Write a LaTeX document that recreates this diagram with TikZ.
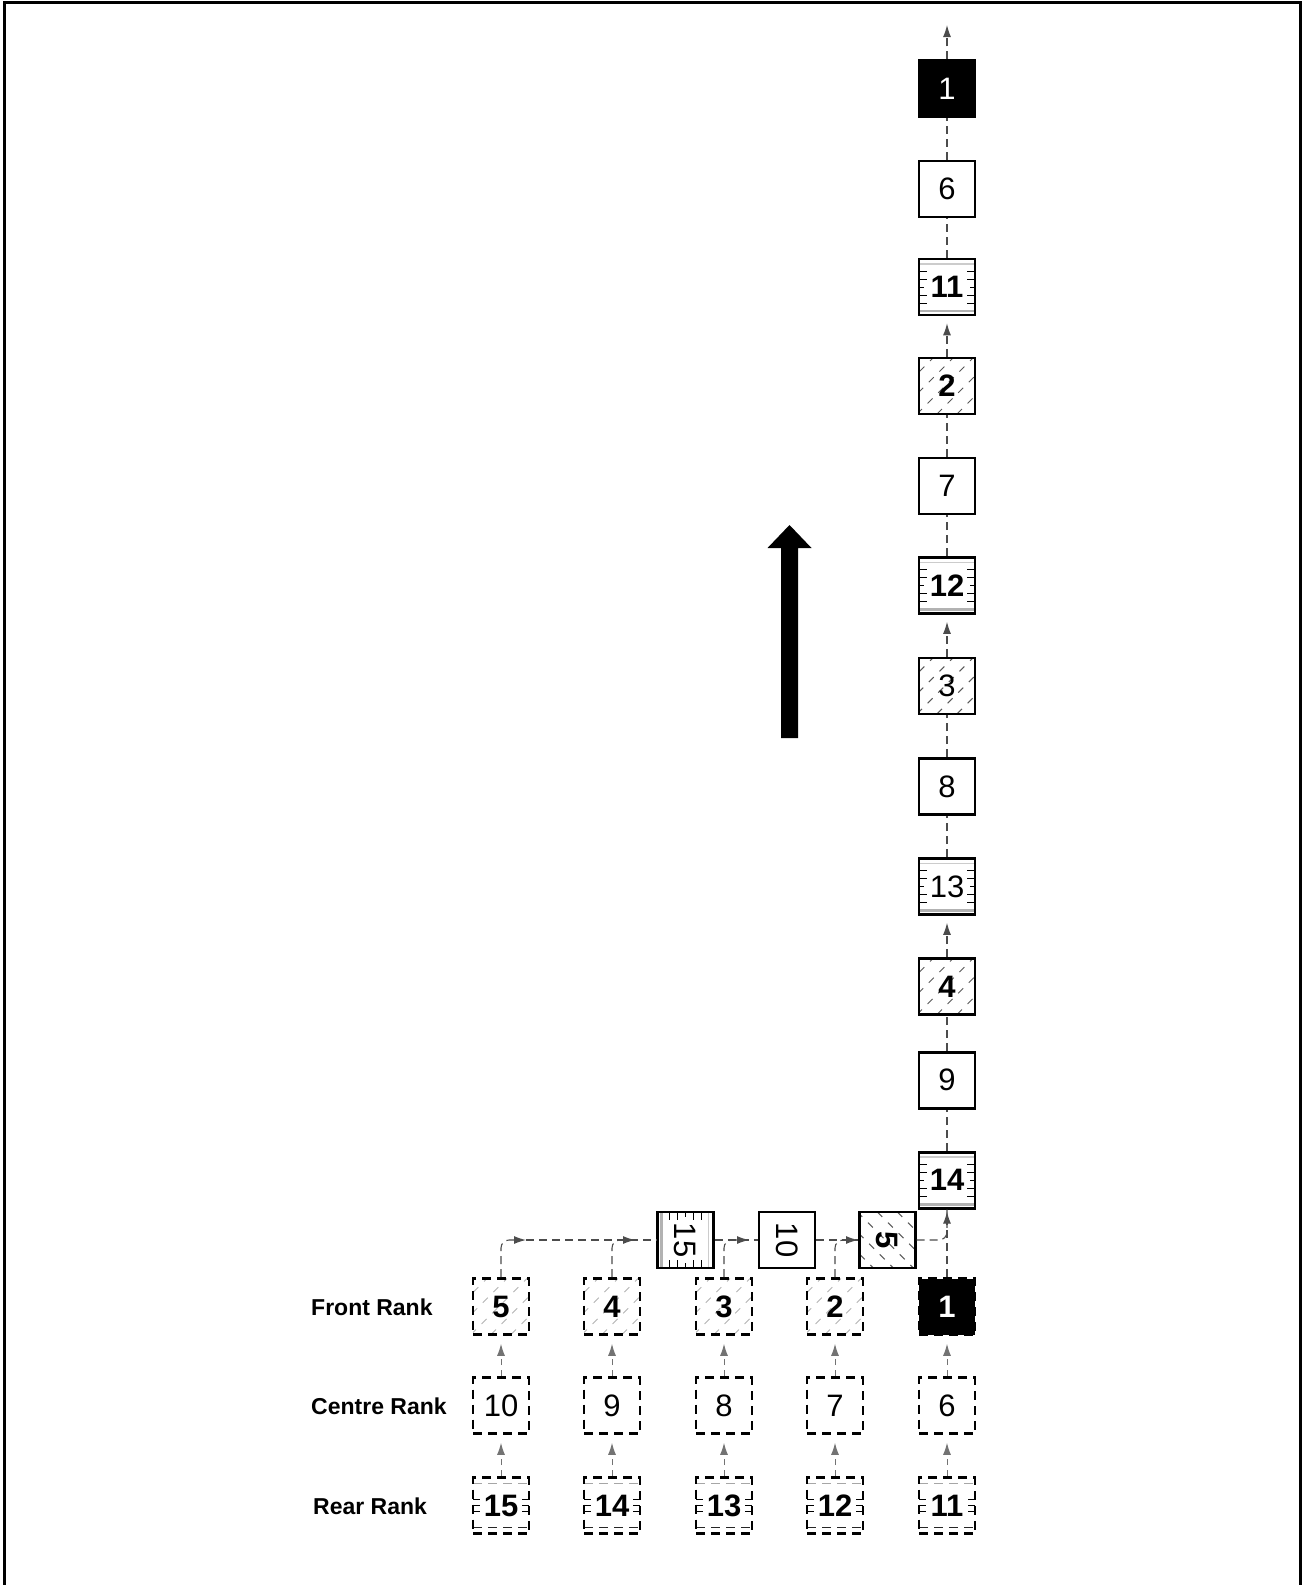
\documentclass[tikz,border=0pt]{standalone}
\usepackage{fontspec}
\setmainfont{Liberation Sans}
\usetikzlibrary{arrows.meta}
% patterns drawn under a 56x56 box centred on #1
\newcommand\patHatchR[2]{\begin{scope}[shift={(#1)}]\clip (-28,-28) rectangle (28,28);
  \foreach \d in {-90,-70,...,30}{\draw[#2,line width=1pt,dash pattern=on 7pt off 8pt] (\d,28) -- (\d+56,-28);}\end{scope}}
\newcommand\patHatchL[2]{\begin{scope}[shift={(#1)}]\clip (-28,-28) rectangle (28,28);
  \foreach \d in {-90,-70,...,30}{\draw[#2,line width=1pt,dash pattern=on 7pt off 8pt] (\d,-28) -- (\d+56,28);}\end{scope}}
\newcommand\patRuledH[1]{\begin{scope}[shift={(#1)}]
  \draw[gray!40,line width=1.8pt] (-27,-23) -- (27,-23);
  \draw[gray!60,line width=2.5pt] (-27,24) -- (27,24);
  \foreach \t in {-16,-8,8,16}{\draw[line width=1pt] (-28,\t) -- (-20,\t) (28,\t) -- (20,\t);}
  \draw[line width=1pt] (-28,0) -- (-23,0) (28,0) -- (23,0);\end{scope}}
\newcommand\patRuledV[1]{\begin{scope}[shift={(#1)}]
  \draw[gray!60,line width=2.5pt] (-24,-27) -- (-24,27);
  \draw[gray!40,line width=1.8pt] (23,-27) -- (23,27);
  \foreach \t in {-16,-8,8,16}{\draw[line width=1pt] (\t,-28) -- (\t,-20) (\t,28) -- (\t,20);}
  \draw[line width=1pt] (0,-28) -- (0,-23) (0,28) -- (0,23);\end{scope}}
\newcommand\patRuledD[1]{\begin{scope}[shift={(#1)}]
  \draw[gray!70,line width=1.8pt,dash pattern=on 9pt off 6pt] (-28,-22) -- (28,-22);
  \draw[black!85,line width=1.8pt,dash pattern=on 9pt off 6pt] (-28,22) -- (28,22);
  \foreach \t in {-6,0,6}{\draw[line width=1pt] (-28,\t) -- (-21,\t) (28,\t) -- (21,\t);}\end{scope}}
\begin{document}
\begin{tikzpicture}[x=1pt,y=-1pt,
  sq/.style={minimum width=56pt,minimum height=56pt,inner sep=0pt,font=\fontsize{31}{33}\selectfont},
  bnum/.style={font=\fontsize{31}{33}\selectfont\bfseries},
  solidbox/.style={sq,draw,line width=2.6pt},
  dashbox/.style={sq,draw,line width=2.6pt,dash pattern=on 9pt off 6pt},
  lead/.style={fill=black,text=white},
  conn/.style={draw=black!70,line width=1.1pt,dash pattern=on 8pt off 5pt},
  conn2/.style={draw=black!55,line width=1pt,dash pattern=on 6pt off 5pt},
  arr/.style={-{Latex[length=12pt,width=8pt]}},
  lab/.style={font=\fontsize{23}{26}\selectfont\bfseries,anchor=base west,inner sep=0pt}
]
\useasboundingbox (0,0) rectangle (1302,1585);
% frame (open at the bottom)
\draw[line width=3.2pt,line join=miter] (4.3,1585) -- (4.3,2.5) -- (1300.5,2.5) -- (1300.5,1585);

% labels
\node[lab] (lfront) at (311,1315.4) {Front Rank};
\node[lab] (lcentre) at (311,1414) {Centre Rank};
\node[lab] (lrear) at (313,1514) {Rear Rank};

% formation: front rank
\patHatchR{501,1306.5}{gray!60}
\node[dashbox,bnum] (f5) at (501,1306.5) {5};
\patHatchR{612,1306.5}{gray!60}
\node[dashbox,bnum] (f4) at (612,1306.5) {4};
\patHatchR{724,1306.5}{gray!60}
\node[dashbox,bnum] (f3) at (724,1306.5) {3};
\patHatchR{835,1306.5}{gray!60}
\node[dashbox,bnum] (f2) at (835,1306.5) {2};
\node[dashbox,lead,bnum] (f1) at (947,1306.5) {1};
% centre rank
\node[dashbox] (ce10) at (501,1405.5) {10};
\node[dashbox] (ce9) at (612,1405.5) {9};
\node[dashbox] (ce8) at (724,1405.5) {8};
\node[dashbox] (ce7) at (835,1405.5) {7};
\node[dashbox] (ce6) at (947,1405.5) {6};
% rear rank
\patRuledD{501,1505.5}
\node[dashbox,bnum] (r15) at (501,1505.5) {15};
\patRuledD{612,1505.5}
\node[dashbox,bnum] (r14) at (612,1505.5) {14};
\patRuledD{724,1505.5}
\node[dashbox,bnum] (r13) at (724,1505.5) {13};
\patRuledD{835,1505.5}
\node[dashbox,bnum] (r12) at (835,1505.5) {12};
\patRuledD{947,1505.5}
\node[dashbox,bnum] (r11) at (947,1505.5) {11};

% wheeling row
\patRuledV{685.5,1240}
\node[solidbox] (m15) at (685.5,1240) {\rotatebox{-90}{15}};
\node[solidbox] (m10) at (787,1240) {\rotatebox{-90}{10}};
\patHatchL{887.3,1240}{gray!70!black}
\node[solidbox,bnum] (m5) at (887.3,1240) {\rotatebox{-90}{5}};

% column of march
\node[solidbox,lead] (col1) at (947,88.7) {1};
\node[solidbox] (col6) at (947,189) {6};
\patRuledH{947,287}
\node[solidbox,bnum] (col11) at (947,287) {11};
\patHatchR{947,386}{gray!70!black}
\node[solidbox,bnum] (col2) at (947,386) {2};
\node[solidbox] (col7) at (947,486) {7};
\patRuledH{947,585.5}
\node[solidbox,bnum] (col12) at (947,585.5) {12};
\patHatchR{947,685.8}{gray!70!black}
\node[solidbox] (col3) at (947,685.8) {3};
\node[solidbox] (col8) at (947,786.5) {8};
\patRuledH{947,886.5}
\node[solidbox] (col13) at (947,886.5) {13};
\patHatchR{947,986.5}{gray!70!black}
\node[solidbox,bnum] (col4) at (947,986.5) {4};
\node[solidbox] (col9) at (947,1080.3) {9};
\patRuledH{947,1180.3}
\node[solidbox,bnum] (col14) at (947,1180.3) {14};
\coordinate (top) at (947,25);

% direction arrow
\fill (781,738) -- (781,548) -- (767.5,548) -- (789.5,525) -- (811.5,548) -- (798,548) -- (798,738) -- cycle;

% column connectors
\draw[conn,arr,shorten >=2pt] (f1.north) -- (col14.south);
\draw[conn,rounded corners=8pt] (m5.east) -| (col14.south);
\draw[conn] (col14.north) -- (col9.south);
\draw[conn] (col9.north) -- (col4.south);
\draw[conn,arr,shorten >=7pt] (col4.north) -- (col13.south);
\draw[conn] (col13.north) -- (col8.south);
\draw[conn] (col8.north) -- (col3.south);
\draw[conn,arr,shorten >=7pt] (col3.north) -- (col12.south);
\draw[conn] (col12.north) -- (col7.south);
\draw[conn] (col7.north) -- (col2.south);
\draw[conn,arr,shorten >=7pt] (col2.north) -- (col11.south);
\draw[conn] (col11.north) -- (col6.south);
\draw[conn] (col6.north) -- (col1.south);
\draw[conn,arr] (col1.north) -- (top);

% wheeling connectors
\coordinate (a5) at (526,1240);
\coordinate (a4) at (635,1240);
\coordinate (a3) at (749,1240);
\draw[conn,arr,rounded corners=8pt] (f5.north) |- (a5);
\draw[conn] (a5) -- (m15.west);
\draw[conn,arr,rounded corners=8pt] (f4.north) |- (a4);
\draw[conn] (m15.east) -- (m10.west);
\draw[conn,arr,rounded corners=8pt] (f3.north) |- (a3);
\draw[conn] (m10.east) -- (m5.west);
\draw[conn,arr,rounded corners=8pt] (f2.north) |- (m5.west);

% rank connectors
\foreach \r/\c/\f in {r15/ce10/f5, r14/ce9/f4, r13/ce8/f3, r12/ce7/f2, r11/ce6/f1}{
  \draw[conn2,arr,shorten >=8pt] (\r.north) -- (\c.south);
  \draw[conn2,arr,shorten >=8pt] (\c.north) -- (\f.south);
}
\end{tikzpicture}
\end{document}
